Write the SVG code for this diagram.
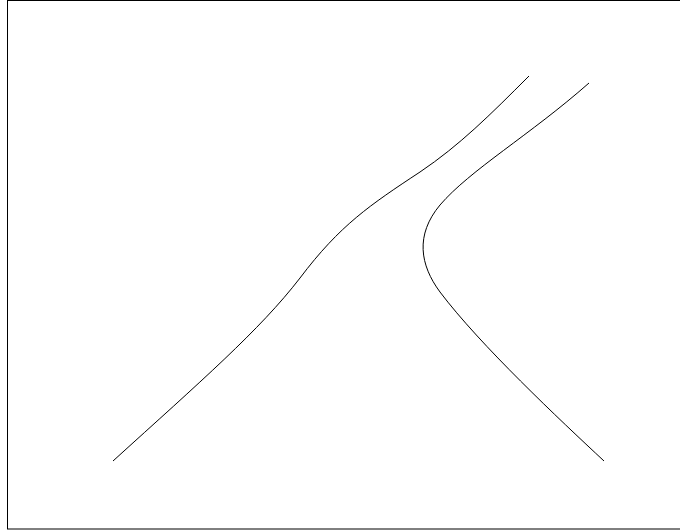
<svg xmlns="http://www.w3.org/2000/svg" width="680" height="530" viewBox="0 0 680 530">
<style>
.frame{fill:#fff;stroke:#000;stroke-width:1}
.curve{fill:none;stroke:#000;stroke-width:1}
</style>
<rect class="frame" x="7.5" y="0.5" width="680" height="528.5"/>
<g id="connectors">
<path id="left-curve" class="curve" d="M113,461 C200,382 260,330 300,278 C340,225 370,205 420,172 C460,145 490,115 529,76"/>
<path id="right-curve" class="curve" d="M589,83 C530,135 470,170 440,205 C415,235 420,265 440,292 C480,345 560,420 604,461"/>
</g>
</svg>
